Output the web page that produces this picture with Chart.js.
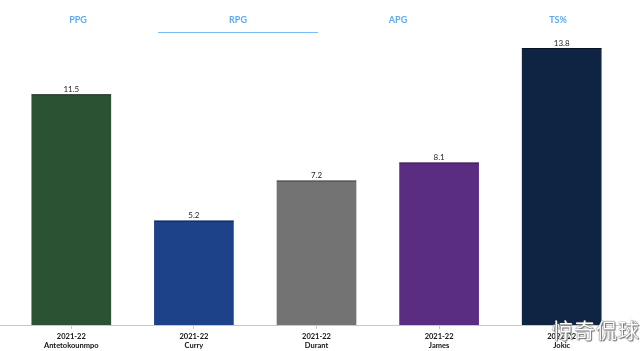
<!DOCTYPE html>
<html>
<head>
<meta charset="utf-8">
<script src="https://cdn.jsdelivr.net/npm/chart.js@4/dist/chart.umd.min.js"></script>
<style>
  html, body { margin: 0; padding: 0; background: #fff; }
  #wrap { position: relative; width: 640px; height: 351px; overflow: hidden; }
  #tabs { position: absolute; left: -2px; top: 0; width: 640px; height: 34px; display: flex; }
  .tab { width: 160px; text-align: center; font: 700 9px Lato, sans-serif; color: #5aaaf0;
         padding-top: 14px; box-sizing: border-box; height: 33px; }
  .tab.on { border-bottom: 1px solid #7cbcf2; }
  #mark { position: absolute; right: 0px; top: 314px; font: 21px "Noto Sans CJK SC", sans-serif;
          color: #fff; letter-spacing: 1px;
          text-shadow: 0 0 1px #555, 0 0 1px #555, 1px 1px 1px #777; }
  canvas { position: absolute; left: 0; top: 0; }
</style>
</head>
<body>
<div id="wrap">
  <canvas id="c" width="640" height="353"></canvas>
  <div id="tabs"></div>
  <div id="mark">惊奇侃球</div>
</div>
<script>
  // --- data ---
  const tabs = ['PPG', 'RPG', 'APG', 'TS%'];
  const activeTab = 'RPG';
  const seasons = ['2021-22', '2021-22', '2021-22', '2021-22', '2021-22'];
  const players = ['Antetokounmpo', 'Curry', 'Durant', 'James', 'Jokic'];
  const rpg = [11.5, 5.2, 7.2, 8.1, 13.8];
  const teamColors = ['#2b5232', '#1d4289', '#737373', '#5a2d82', '#0f2343'];

  const tabsEl = document.getElementById('tabs');
  tabs.forEach(t => {
    const d = document.createElement('div');
    d.className = 'tab' + (t === activeTab ? ' on' : '');
    d.textContent = t;
    tabsEl.appendChild(d);
  });

  // value labels above bars + full-width baseline
  const extras = {
    id: 'extras',
    afterDatasetsDraw(chart) {
      const ctx = chart.ctx;
      const meta = chart.getDatasetMeta(0);
      ctx.save();
      ctx.font = '8px Lato, sans-serif';
      ctx.textAlign = 'center';
      ctx.textBaseline = 'bottom';
      meta.data.forEach((bar, i) => {
        ctx.fillStyle = '#222';
        ctx.fillText(rpg[i].toFixed(1), bar.x, bar.y - 1);
        ctx.fillStyle = 'rgba(0,0,0,0.45)';
        ctx.fillRect(bar.x - bar.width / 2, bar.y, bar.width, 1);
      });
      const y0 = chart.scales.y.getPixelForValue(0);
      ctx.strokeStyle = '#c8c8c8';
      ctx.lineWidth = 1;
      ctx.beginPath();
      ctx.moveTo(0, Math.round(y0) + 0.5);
      ctx.lineTo(chart.width, Math.round(y0) + 0.5);
      ctx.stroke();
      ctx.restore();
    }
  };

  new Chart(document.getElementById('c'), {
    type: 'bar',
    data: {
      labels: players.map((p, i) => [seasons[i], p]),
      datasets: [{
        data: rpg,
        backgroundColor: teamColors,
        barPercentage: 0.65,
        categoryPercentage: 1
      }]
    },
    options: {
      responsive: false,
      animation: false,
      layout: { padding: { top: 48, left: 10, right: 17, bottom: 0 } },
      plugins: { legend: { display: false }, tooltip: { enabled: false } },
      scales: {
        x: {
          grid: { display: true, offset: false, drawOnChartArea: false, tickLength: 4, color: '#c8c8c8' },
          border: { display: false },
          ticks: { color: '#111', font: { size: 7.5, family: 'Lato, sans-serif', weight: 'bold', lineHeight: 1.2 }, padding: 3, maxRotation: 0 }
        },
        y: { display: false, min: 0, max: 13.8 }
      }
    },
    plugins: [extras]
  });
</script>
</body>
</html>
